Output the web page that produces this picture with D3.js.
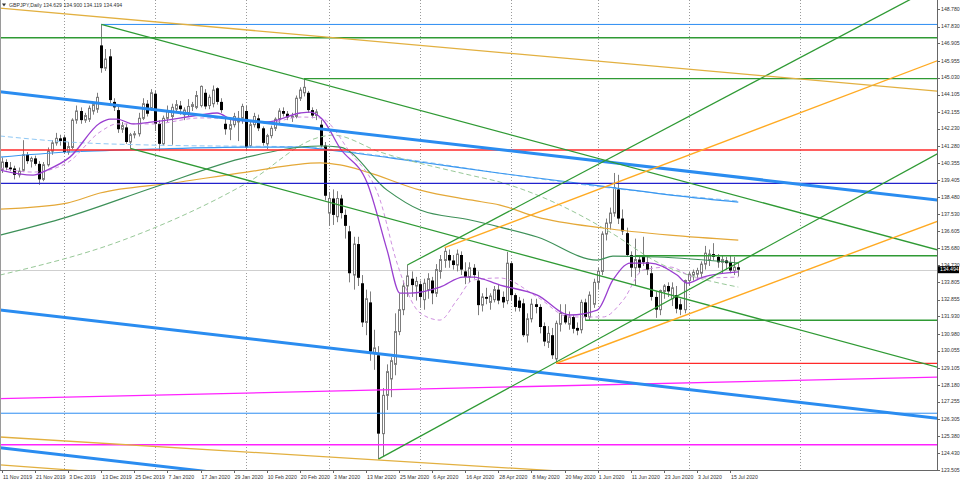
<!DOCTYPE html>
<html><head><meta charset="utf-8">
<script src="https://cdn.jsdelivr.net/npm/d3@7"></script>
<style>
html,body{margin:0;padding:0;background:#fff;}
svg{display:block;font-family:"Liberation Sans",Arial,sans-serif;}
</style></head><body>
<svg id="c" width="960" height="482"></svg>
<script>
// ---------------- DATA ----------------
const symbolTitle = "GBPJPY,Daily 134.629 134.900 134.119 134.494";
const open = [140.00,140.40,140.10,140.05,139.70,139.95,140.80,140.45,140.60,140.30,139.45,140.25,141.00,141.45,141.70,141.75,140.95,141.20,142.70,143.20,
142.70,142.75,143.20,143.30,146.80,145.55,146.20,143.70,143.25,142.20,142.30,141.50,141.90,141.95,142.80,143.60,143.35,144.15,142.50,141.40,
142.80,142.90,143.30,143.50,143.00,143.10,143.45,143.40,143.50,144.20,143.50,143.60,144.45,143.70,142.50,142.20,142.45,142.60,142.80,143.20,
141.30,142.45,142.80,142.25,141.40,141.85,142.25,142.75,143.20,143.05,142.85,142.90,143.90,144.20,144.20,143.25,142.95,142.45,141.30,137.60,
138.40,137.40,138.40,137.50,136.60,134.20,135.90,133.75,131.60,132.70,129.90,129.80,125.50,127.60,128.50,129.30,131.10,132.30,133.60,134.00,
133.60,133.70,132.85,133.40,133.90,133.20,134.40,135.00,135.30,135.00,134.75,135.30,134.40,134.10,134.60,133.90,132.55,133.00,132.70,132.85,
133.40,133.00,132.80,134.85,133.10,132.80,132.65,130.90,131.80,132.60,132.45,131.40,130.50,130.90,129.60,131.50,132.00,131.50,131.90,131.30,
131.20,132.70,131.90,132.60,133.80,134.40,136.45,137.05,137.60,138.90,137.30,136.50,135.30,134.60,135.05,135.20,134.90,134.30,133.00,132.30,
133.30,133.60,132.90,133.10,132.60,132.30,133.90,134.20,134.25,134.30,134.80,135.00,135.35,135.20,134.90,135.00,134.90,134.45,134.629];
const high = [140.65,140.55,140.40,140.20,140.10,141.60,140.95,140.70,140.75,140.45,140.40,141.20,141.60,142.00,141.90,141.90,141.50,142.80,143.50,143.40,
143.10,143.50,143.70,144.20,147.95,146.60,146.60,143.90,143.50,142.60,142.50,142.00,142.10,143.10,143.90,143.80,144.40,144.30,142.70,142.95,
143.50,143.60,143.80,143.75,143.40,143.85,143.70,144.30,144.60,144.40,144.10,144.60,144.50,143.90,142.80,142.80,143.10,143.20,143.60,143.50,
142.60,143.10,143.00,142.35,141.95,142.40,142.85,143.35,143.40,143.20,143.10,144.05,144.50,144.98,144.30,143.40,143.30,142.70,141.50,138.75,
138.90,138.80,138.60,137.80,136.90,136.30,136.30,134.20,133.40,133.30,131.20,130.30,128.00,129.30,129.70,132.10,133.20,133.90,134.75,134.40,
134.10,133.90,134.00,134.30,134.10,134.80,135.30,135.70,135.60,135.30,135.60,135.50,134.90,134.90,134.80,134.40,133.20,133.50,133.20,133.60,
133.70,133.30,135.47,134.95,133.20,133.00,132.90,132.10,132.90,132.90,132.60,131.60,131.40,131.30,131.70,132.60,132.60,132.20,132.00,131.60,
132.85,132.90,133.30,134.00,134.60,136.60,137.30,137.90,139.80,139.70,137.80,136.80,135.50,136.20,135.30,136.30,135.30,134.70,133.30,133.40,
133.70,133.80,133.80,133.60,132.90,133.95,134.40,134.50,134.60,134.95,135.80,135.60,135.95,135.35,135.30,135.20,135.30,135.20,134.900];
const low = [139.80,139.95,139.90,139.45,139.55,139.85,140.30,140.10,140.20,139.15,139.35,140.15,140.80,141.30,141.30,140.85,140.80,141.10,142.50,142.50,
142.55,142.60,143.00,143.10,145.30,145.40,143.60,143.20,142.00,142.00,141.40,141.17,141.70,141.80,142.70,142.90,143.20,142.10,141.00,141.30,
142.60,141.35,143.10,143.00,142.70,142.90,143.20,143.30,143.40,143.30,143.30,143.40,143.55,143.10,141.90,141.60,142.30,141.55,142.50,141.00,
141.20,142.30,142.10,141.30,141.10,141.70,142.10,142.50,142.90,142.70,142.60,142.80,143.75,144.00,143.10,142.80,142.70,141.20,138.30,136.90,
136.95,137.10,137.30,136.20,133.80,133.40,133.60,131.35,130.90,129.50,129.00,124.10,124.25,126.80,127.50,128.70,130.90,132.00,133.00,133.00,
132.80,132.40,132.30,132.90,132.60,133.00,134.00,134.60,134.60,134.50,134.40,134.20,133.70,133.80,134.00,132.00,132.20,132.60,132.30,132.70,
132.60,132.40,132.60,132.80,132.20,132.20,130.80,130.50,131.60,132.10,131.00,130.30,130.20,129.60,129.36,131.10,131.50,131.20,131.00,130.90,
131.00,131.72,131.70,132.40,133.40,134.20,136.10,136.70,137.40,137.00,136.40,135.20,134.10,133.60,134.30,134.70,134.20,132.80,131.85,132.00,
132.90,133.00,132.50,132.10,132.00,132.10,133.60,133.90,134.00,134.10,134.50,134.70,135.00,134.60,134.30,134.50,134.30,134.20,134.119];
const close = [140.40,140.10,140.00,139.70,139.90,140.80,140.45,140.60,140.30,139.45,140.25,141.00,141.45,141.70,141.55,140.95,141.25,142.70,143.20,142.70,
142.95,143.35,143.55,143.95,145.55,146.05,143.80,143.40,142.20,142.40,141.50,141.90,141.95,142.80,143.60,143.05,144.20,142.50,141.40,142.80,
143.20,143.40,143.55,143.30,143.25,143.45,143.55,144.05,144.55,143.45,143.95,144.35,143.70,143.25,142.20,142.45,142.90,142.80,143.45,141.20,
142.45,142.90,142.25,141.45,141.85,142.25,142.75,143.20,143.05,142.85,142.90,143.90,144.35,144.50,143.25,142.95,143.15,141.30,138.55,138.40,
137.50,138.40,137.60,136.90,134.30,135.90,134.05,131.60,132.90,130.00,130.20,125.50,127.60,128.90,129.50,131.10,132.30,133.60,134.15,133.65,
133.85,133.00,133.75,134.00,133.20,134.50,135.05,135.50,135.00,134.75,135.35,134.50,134.10,134.60,134.20,132.55,133.00,132.90,133.05,133.40,
132.80,132.70,134.85,133.10,132.45,132.40,130.90,131.80,132.60,132.45,131.35,130.55,131.00,129.80,131.55,132.10,131.60,131.90,131.25,131.15,
132.70,131.90,133.10,133.80,134.40,136.45,137.05,137.60,139.00,137.30,136.60,135.30,134.60,135.05,134.60,134.90,134.50,133.00,132.30,133.35,
133.60,133.30,133.50,132.35,132.30,133.90,134.25,134.35,134.45,134.80,135.40,135.35,135.20,134.90,135.05,134.85,134.45,134.63,134.494];

const dateLabels = ["11 Nov 2019","21 Nov 2019","3 Dec 2019","13 Dec 2019","25 Dec 2019","7 Jan 2020","17 Jan 2020","29 Jan 2020",
"10 Feb 2020","20 Feb 2020","3 Mar 2020","13 Mar 2020","25 Mar 2020","6 Apr 2020","16 Apr 2020","28 Apr 2020","8 May 2020",
"20 May 2020","1 Jun 2020","11 Jun 2020","23 Jun 2020","3 Jul 2020","15 Jul 2020"];
const labelStep = 8;                       // one date label every 8 bars
const monthStartBars = [15,37,59,79,101,123,144,166,193];
const priceTicks = [148.780,147.830,146.905,145.955,145.030,144.105,143.155,142.230,141.280,140.355,139.405,138.480,137.530,
136.605,135.680,134.730,133.805,132.855,131.930,130.980,130.055,129.105,128.180,127.255,126.305,125.380,124.430,123.505];
const lastPrice = 134.494;

// moving averages: [bar index, price]
const maPurple = [[-0.5,139.96],[7.5,139.68],[10.9,139.96],[16.4,140.67],[23.7,142.54],[26.1,142.76],[27.8,142.76],[31.7,142.49],[36.5,142.6],
[47.9,142.98],[52,143.09],[55.9,142.71],[64.1,142.6],[72.1,143.09],[74.5,143.14],[77.6,142.71],[81.7,141.17],[88.3,139.25],[93.1,135.57],
[96.2,133.21],[98.7,133.21],[105.9,133.54],[111.5,134.09],[113.9,134.09],[120.4,133.65],[129.4,133.1],[137.3,132.01],[143.9,132.28],
[147.7,133.93],[151.9,134.86],[156.7,134.86],[163.2,134.2],[165.6,133.76],[169.5,134.09],[178,134.37]];
const maPurpleDash = [[-0.5,140.07],[7.5,139.85],[15.7,140.35],[23.7,142.05],[27.8,142.49],[36.5,142.49],[47.9,142.82],[55.9,142.76],
[64.1,142.54],[72.1,142.87],[76.9,142.82],[84.1,140.95],[91.4,138.32],[95.5,134.86],[101.1,132.12],[105.9,131.73],[110,132.83],
[113.9,133.93],[120.4,134.04],[129.4,133.0],[137.3,131.9],[145.3,131.9],[150.2,132.83],[155,134.48],[161.5,134.64],[168,134.04],[178,134.09]];
const maDarkGreen = [[-0.5,136.39],[15.7,137.38],[37,139.03],[59.2,140.67],[76.9,141.28],[81.7,141.22],[93.1,138.86],[101.1,137.77],
[113.2,137.22],[120.4,136.83],[129.4,136.29],[143.9,135.02],[147.7,135.24],[158.4,135.19],[178,134.86]];
const maLightGreenDash = [[-0.5,134.2],[29.3,136.12],[59.2,139.25],[76.9,141.77],[80,141.88],[91.4,140.95],[113.2,139.68],[120.4,139.3],
[134.9,138.04],[147,136.56],[158.4,134.91],[178,133.54]];
const maGold = [[-0.5,137.82],[15.7,138.15],[23.7,138.7],[41.3,139.25],[59.2,139.85],[76.9,140.35],[81.7,140.24],[88.3,139.85],[101.1,138.86],
[113.2,138.32],[120.4,138.04],[129.4,137.38],[145.3,136.78],[161.5,136.39],[178,136.12]];
const maLightBlue = [[-0.5,140.67],[16,140.95],[36.5,141.11],[59,141.22],[72,141.22],[79,141.06],[101,140.40],[120,139.80],[145,139.08],[164,138.53],[178,138.20]];
const maLightBlueDash = [[-0.5,141.83],[16,141.5],[36.5,141.33],[75,141.22],[79,141.11],[101,140.45],[120,139.80],[145,139.03],[178,138.26]];

// drawn objects: [name, bar1, price1, bar2, price2, extension]
const trendLines = [
 ['hBlue', 24,147.95, 220,147.95,'ray'],
 ['hGreen', 0,147.22, 220,147.22,'full'],
 ['hGreen', 73,144.98, 220,144.98,'ray'],
 ['hRed', 0,141.06, 220,141.06,'full'],
 ['hNavy', 0,139.23, 220,139.23,'full'],
 ['hGreen', 153,135.26, 220,135.26,'ray'],
 ['hGreen', 141,131.72, 220,131.72,'ray'],
 ['hRed', 134,129.36, 220,129.36,'ray'],
 ['magenta', 0,127.42, 220,128.57,'full'],
 ['hBlue', 0,126.62, 220,126.62,'full'],
 ['magenta', 0,124.89, 220,124.89,'full'],
 ['channel', 0,144.24, 220,138.47,'full'],
 ['channel', 0,132.27, 220,126.50,'full'],
 ['channel', 0,124.72, 220,118.95,'full'],
 ['tGreen', 24,147.95, 220,135.96,'ray'],
 ['tGreen', 31,141.15, 220,129.52,'ray'],
 ['tGreen', 91,124.10, 220,140.09,'ray'],
 ['tGreen', 98,134.75, 220,149.37,'ray'],
 ['tOrange', 134,129.36, 220,136.63,'ray'],
 ['tOrange', 107,135.70, 220,145.43,'ray'],
 ['tGold', 0,148.84, 220,144.41,'full'],
 ['tGold', 0,125.31, 220,122.27,'full'],
 ['tGold', 0,123.78, 220,120.10,'full']
];

// ---------------- STYLES ----------------
const lineStyle = {
 hBlue:{c:'#2b8cf2',w:1}, hGreen:{c:'#2f9a34',w:1.3}, hRed:{c:'#ff2a2a',w:1.3}, hNavy:{c:'#2222cc',w:1.3},
 magenta:{c:'#ff22ff',w:1.3}, channel:{c:'#2a8cf0',w:3}, tGreen:{c:'#2f9a34',w:1.3}, tOrange:{c:'#ffaa22',w:1.4},
 tGold:{c:'#e2b040',w:1.3}
};
const maStyle = [
 [maLightBlueDash,'#8fc8f5',1,'5,3'],[maLightBlue,'#3a97f0',1.1,null],[maLightGreenDash,'#98c898',1,'5,3'],
 [maGold,'#e4a838',1.2,null],[maDarkGreen,'#3d9058',1.2,null],[maPurpleDash,'#cf90e0',1,'4,3'],[maPurple,'#9a3fd0',1.3,null]
];

// ---------------- DRAW ----------------
const W = 937, H = 470;
const svg = d3.select('#c');
const x = d3.scaleLinear().domain([0,176]).range([2,730]);
const y = d3.scaleLinear().domain([123.505,148.780]).range([470,9.3]);

svg.append('defs').append('clipPath').attr('id','clip').append('rect').attr('x',0).attr('y',0).attr('width',W).attr('height',H);
const plot = svg.append('g').attr('clip-path','url(#clip)');

// grid
plot.selectAll('line.grid').data(monthStartBars).join('line')
  .attr('x1',d=>Math.round(x(d))+0.5).attr('x2',d=>Math.round(x(d))+0.5).attr('y1',0).attr('y2',H)
  .attr('stroke','#9a9a9a').attr('stroke-dasharray','1,2').attr('stroke-width',1);

// last price line
plot.append('line').attr('x1',0).attr('x2',W).attr('y1',Math.round(y(lastPrice))+0.5).attr('y2',Math.round(y(lastPrice))+0.5)
  .attr('stroke','#cfcfcf').attr('stroke-width',1);

// candles
const bars = close.map((c,i)=>({i,o:open[i],h:high[i],l:low[i],c}));
const cg = plot.append('g');
cg.selectAll('line.wick').data(bars).join('line')
  .attr('x1',d=>Math.round(x(d.i))+0.5).attr('x2',d=>Math.round(x(d.i))+0.5)
  .attr('y1',d=>y(d.h)).attr('y2',d=>y(d.l)).attr('stroke','#7d7d7d').attr('stroke-width',1);
cg.selectAll('rect.body').data(bars).join('rect')
  .attr('x',d=> d.c>=d.o ? Math.round(x(d.i))-0.5 : Math.round(x(d.i))-1)
  .attr('width',d=> d.c>=d.o ? 2 : 3)
  .attr('y',d=>y(Math.max(d.o,d.c)))
  .attr('height',d=>Math.max(1,y(Math.min(d.o,d.c))-y(Math.max(d.o,d.c))))
  .attr('fill',d=>d.c>=d.o?'#ffffff':'#000000')
  .attr('stroke',d=>d.c>=d.o?'#7d7d7d':'none').attr('stroke-width',1);

// moving averages
const lineGen = d3.line().x(d=>x(d[0])).y(d=>y(d[1])).curve(d3.curveMonotoneX);
maStyle.forEach(([data,col,w,dash])=>{
  const p = plot.append('path').attr('d',lineGen(data)).attr('fill','none').attr('stroke',col).attr('stroke-width',w);
  if(dash) p.attr('stroke-dasharray',dash);
});

// trend lines
trendLines.forEach(([name,i1,p1,i2,p2,ext])=>{
  const x1=x(i1), y1=y(p1), x2=x(i2), y2=y(p2);
  const k=(y2-y1)/(x2-x1);
  const sx = ext==='full' ? 0 : x1;
  const sy = y1 + k*(sx-x1);
  const ex = W+5, ey = y1 + k*(ex-x1);
  const st = lineStyle[name];
  plot.append('line').attr('x1',sx).attr('y1',sy).attr('x2',ex).attr('y2',ey)
    .attr('stroke',st.c).attr('stroke-width',st.w);
});

// frame
svg.append('line').attr('x1',0.5).attr('x2',0.5).attr('y1',0).attr('y2',H).attr('stroke','#9a9a9a');
svg.append('line').attr('x1',W+0.5).attr('x2',W+0.5).attr('y1',0).attr('y2',H+0.5).attr('stroke','#666');
svg.append('line').attr('x1',0).attr('x2',W+0.5).attr('y1',H+0.5).attr('y2',H+0.5).attr('stroke','#666');

// price axis
const ya = svg.append('g');
ya.selectAll('line').data(priceTicks).join('line')
  .attr('x1',W).attr('x2',W+3).attr('y1',d=>Math.round(y(d))+0.5).attr('y2',d=>Math.round(y(d))+0.5).attr('stroke','#666');
ya.selectAll('text').data(priceTicks).join('text')
  .attr('x',W+4).attr('y',d=>y(d)+1.8).attr('font-size',5.2).attr('fill','#333')
  .text(d=>d3.format('.3f')(d));
ya.append('rect').attr('x',W+1).attr('y',y(lastPrice)-3.5).attr('width',21).attr('height',7).attr('fill','#000');
ya.append('text').attr('x',W+3).attr('y',y(lastPrice)+1.8).attr('font-size',5.2).attr('fill','#fff').text(d3.format('.3f')(lastPrice));

// date axis
const xa = svg.append('g');
const labelBars = dateLabels.map((t,k)=>({t,i:k*labelStep}));
xa.selectAll('line').data(labelBars).join('line')
  .attr('x1',d=>Math.round(x(d.i))+0.5).attr('x2',d=>Math.round(x(d.i))+0.5).attr('y1',H).attr('y2',H+3).attr('stroke','#666');
xa.selectAll('text').data(labelBars).join('text')
  .attr('x',d=>x(d.i)+1).attr('y',H+8.5).attr('font-size',5.2).attr('fill','#333').text(d=>d.t);

// title
svg.append('path').attr('d','M2,3.5 L6,3.5 L4,6.5 Z').attr('fill','#333');
svg.append('text').attr('x',9).attr('y',7).attr('font-size',5.2).attr('fill','#333').text(symbolTitle);
</script>
</body></html>
